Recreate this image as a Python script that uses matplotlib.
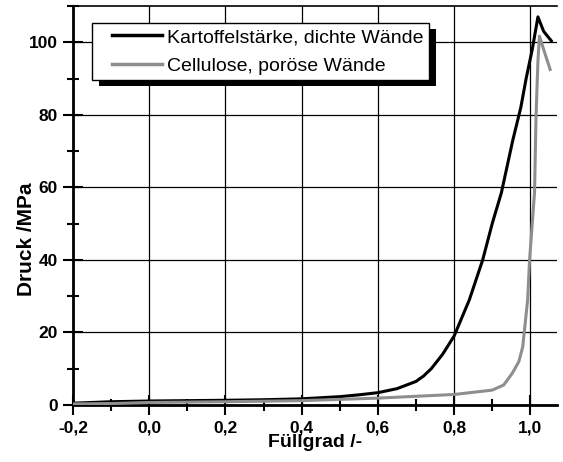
import matplotlib
matplotlib.use("Agg")
import numpy as np
import matplotlib.pyplot as plt
from matplotlib.patches import Rectangle
from matplotlib.transforms import IdentityTransform
from matplotlib.ticker import MultipleLocator
from matplotlib.legend_handler import HandlerLine2D

plt.rcParams['font.family'] = ['Liberation Sans', 'DejaVu Sans']

# Kartoffelstaerke, dichte Waende
x_kart = [-0.2, -0.1, 0.0, 0.1, 0.2, 0.3, 0.4, 0.5, 0.55, 0.6, 0.65, 0.7, 0.72, 0.74,
          0.77, 0.8, 0.84, 0.875, 0.9, 0.924, 0.954, 0.975, 0.989, 1.005, 1.02, 1.035, 1.055]
y_kart = [0.5, 0.9, 1.1, 1.2, 1.3, 1.45, 1.7, 2.3, 2.8, 3.4, 4.5, 6.5, 8.0, 10.0,
          14.0, 19.0, 29.0, 40.0, 50.0, 58.5, 73.0, 82.0, 90.0, 98.0, 107.0, 103.0, 100.4]

# Cellulose, poroese Waende
x_cell = [-0.2, -0.1, 0.0, 0.2, 0.4, 0.6, 0.8, 0.9, 0.93, 0.953, 0.97, 0.98, 0.993,
          0.998, 1.005, 1.011, 1.015, 1.02, 1.024, 1.035, 1.052]
y_cell = [0.3, 0.4, 0.7, 0.9, 1.2, 1.9, 2.9, 4.1, 5.5, 8.8, 12.0, 16.0, 29.0,
          40.0, 50.0, 58.5, 79.6, 95.0, 101.7, 98.0, 92.5]

xticks = [-0.2, 0.0, 0.2, 0.4, 0.6, 0.8, 1.0]
xticklabels = ["-0,2", "0,0", "0,2", "0,4", "0,6", "0,8", "1,0"]
yticks = [0, 20, 40, 60, 80, 100]
yticklabels = ["0", "20", "40", "60", "80", "100"]


class PaddedLine(HandlerLine2D):
    # legend line only in the right part of the handle box
    def get_xdata(self, legend, xdescent, ydescent, width, height, fontsize):
        x0 = -xdescent + 0.23 * width
        xdata = np.array([x0, -xdescent + width])
        return xdata, xdata


fig = plt.figure(figsize=(5.63, 4.62), dpi=100)
ax = fig.add_axes([73 / 563, 57 / 462, 484 / 563, 399 / 462])

ax.plot(x_kart, y_kart, color='black', lw=2.2, label='Kartoffelstärke, dichte Wände', zorder=3)
ax.plot(x_cell, y_cell, color='#8e8e8e', lw=2.2, label='Cellulose, poröse Wände', zorder=3)

ax.set_xlim(-0.2, 1.07)
ax.set_ylim(0, 110)
ax.set_xticks(xticks)
ax.set_xticklabels(xticklabels)
ax.set_yticks(yticks)
ax.set_yticklabels(yticklabels)
ax.xaxis.set_minor_locator(MultipleLocator(0.1))
ax.yaxis.set_minor_locator(MultipleLocator(10))

for lab in ax.get_xticklabels() + ax.get_yticklabels():
    lab.set_fontweight('bold')
    lab.set_fontsize(12.5)

ax.tick_params(which='major', direction='inout', length=14, width=1.5, color='black', pad=4)
ax.tick_params(which='minor', direction='inout', length=9, width=1.5, color='black')
ax.tick_params(axis='x', which='major', pad=4)

ax.grid(True, which='major', color='black', lw=0.9)
ax.set_axisbelow(True)

for side in ['left', 'bottom']:
    ax.spines[side].set_linewidth(2.0)
ax.spines['top'].set_linewidth(1.2)
ax.spines['right'].set_visible(False)

ax.set_xlabel('Füllgrad /-', fontsize=14, fontweight='bold', labelpad=-1)
ax.set_ylabel('Druck /MPa', fontsize=15, fontweight='bold')
ax.yaxis.set_label_coords(-0.077, 0.415)

leg = ax.legend(loc='upper left', bbox_to_anchor=(0.039, 0.958), borderaxespad=0,
                fontsize=14, handlelength=3.3, handletextpad=0.26, labelspacing=0.55,
                fancybox=False, framealpha=1, edgecolor='black', borderpad=0.3,
                handler_map={plt.Line2D: PaddedLine()})
leg.get_frame().set_linewidth(1.0)
for line in leg.get_lines():
    line.set_linewidth(2.5)

# shadow box behind the legend
fig.canvas.draw()
bb = leg.get_window_extent()
shadow = Rectangle((bb.x0 + 7, bb.y0 - 6), bb.width, bb.height, transform=IdentityTransform(),
                   facecolor='black', edgecolor='none', zorder=4.5, clip_on=False)
ax.add_patch(shadow)

fig.savefig('out.png', dpi=100)
